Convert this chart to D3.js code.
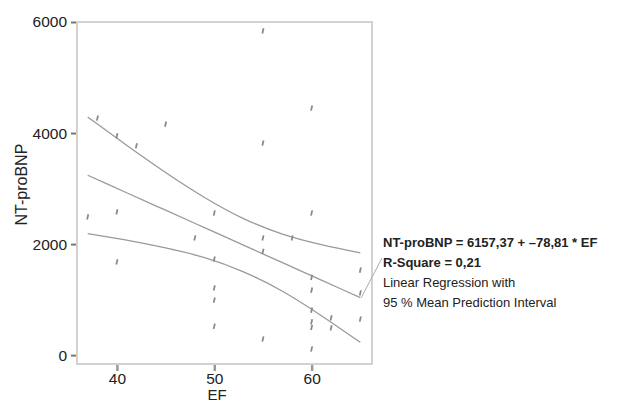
<!DOCTYPE html>
<html>
<head>
<meta charset="utf-8">
<script src="https://cdn.jsdelivr.net/npm/d3@7"></script>
<style>
  html, body { margin: 0; padding: 0; background: #fff; }
  svg { display: block; font-family: "Liberation Sans", Arial, Helvetica, sans-serif; }
</style>
</head>
<body>
<div id="chart"></div>
<script>
// Observed cases (EF, NT-proBNP)
const ef = [37, 38, 40, 42, 45, 40, 40, 48,
            50, 50, 50, 50, 50,
            55, 55, 55, 55, 55,
            60, 60, 58, 60, 60, 60, 60, 60, 60,
            62, 62, 65, 65, 65];
const ntprobnp = [2490, 4270, 3950, 3770, 4160, 2580, 1680, 2110,
                  2560, 1730, 1210, 990, 520,
                  5840, 3820, 2110, 1870, 290,
                  4450, 2560, 2110, 1400, 1170, 810, 600, 500, 110,
                  670, 490, 1530, 1120, 650];

// Fit line and 95% mean prediction interval
const fitEF = [37, 41, 45, 49, 53, 57, 61, 65];
const fitMean = [3240, 2925, 2610, 2295, 1980, 1665, 1350, 1035];
const fitUpper = [4290, 3780, 3290, 2840, 2460, 2180, 1990, 1840];
const fitLower = [2190, 2070, 1930, 1755, 1500, 1150, 710, 230];

const xTicks = [40, 50, 60];
const yTicks = [0, 2000, 4000, 6000];

const legendLines = [
    { text: "NT-proBNP = 6157,37 + \u201378,81 * EF", bold: true },
    { text: "R-Square = 0,21", bold: true },
    { text: "Linear Regression with", bold: false },
    { text: "95 % Mean Prediction Interval", bold: false }
];

const width = 621, height = 404;
const plot = { left: 77, right: 372, top: 22, bottom: 364 };

const svg = d3.select("#chart").append("svg")
    .attr("width", width)
    .attr("height", height);

const x = d3.scaleLinear().domain([35.9, 66.2]).range([plot.left, plot.right]);
const y = d3.scaleLinear().domain([-160, 6000]).range([plot.bottom, plot.top]);

const frameColor = "#d2d2d2";

// Frame (axis lines + top/right border)
svg.append("rect")
    .attr("x", plot.left).attr("y", plot.top)
    .attr("width", plot.right - plot.left).attr("height", plot.bottom - plot.top)
    .attr("fill", "none")
    .attr("stroke", frameColor)
    .attr("stroke-width", 2);

// Y axis ticks + labels
const yAxis = svg.append("g").attr("transform", `translate(${plot.left - 1},0)`)
    .call(d3.axisLeft(y).tickValues(yTicks).tickSize(5).tickPadding(4).tickFormat(d3.format("d")));
yAxis.select(".domain").remove();
yAxis.selectAll(".tick line").attr("stroke", "#777").attr("stroke-width", 2);
yAxis.selectAll(".tick text")
    .attr("fill", "#222")
    .style("font-size", "15.5px")
    .style("font-family", "'Liberation Sans', Arial, sans-serif");

// X axis ticks + labels
const xAxis = svg.append("g").attr("transform", `translate(0,${plot.bottom + 1})`)
    .call(d3.axisBottom(x).tickValues(xTicks).tickSize(6).tickPadding(2));
xAxis.select(".domain").remove();
xAxis.selectAll(".tick line").attr("stroke", "#999").attr("stroke-width", 2.5);
xAxis.selectAll(".tick text")
    .attr("fill", "#222")
    .style("font-size", "15.5px")
    .style("font-family", "'Liberation Sans', Arial, sans-serif");

// Axis titles
svg.append("text")
    .attr("x", 217)
    .attr("y", 400)
    .attr("text-anchor", "middle")
    .attr("fill", "#222")
    .style("font-size", "15px")
    .text("EF");

svg.append("text")
    .attr("transform", `translate(27,${y(3000) - 4}) rotate(-90)`)
    .attr("text-anchor", "middle")
    .attr("fill", "#222")
    .style("font-size", "16px")
    .text("NT-proBNP");

// Fit lines
const fitLine = values => d3.line()
    .x((d, i) => x(fitEF[i]))
    .y(d => y(d))
    .curve(d3.curveNatural)(values);

[fitUpper, fitMean, fitLower].forEach(vals => {
    svg.append("path")
        .attr("d", fitLine(vals))
        .attr("fill", "none")
        .attr("stroke", "#9a9a9a")
        .attr("stroke-width", 1.3);
});

// Points
svg.append("g").selectAll("line")
    .data(ef.map((e, i) => [e, ntprobnp[i]]))
    .join("line")
    .attr("x1", d => x(d[0]) - 0.6).attr("y1", d => y(d[1]) + 2.6)
    .attr("x2", d => x(d[0]) + 0.6).attr("y2", d => y(d[1]) - 2.6)
    .attr("stroke", "#8a8a8a")
    .attr("stroke-width", 1.8);

// Leader line from the fit line to the annotation
const textX = 383, textY = 247, lineGap = 20;
svg.append("line")
    .attr("x1", x(fitEF[fitEF.length - 1]) + 1)
    .attr("y1", y(fitMean[fitMean.length - 1]))
    .attr("x2", textX - 1)
    .attr("y2", textY + 11)
    .attr("stroke", "#aaa")
    .attr("stroke-width", 1);

svg.append("g").selectAll("text")
    .data(legendLines)
    .join("text")
    .attr("x", textX)
    .attr("y", (d, i) => textY + i * lineGap)
    .attr("fill", "#222")
    .style("font-size", "13px")
    .style("font-weight", d => d.bold ? "bold" : "normal")
    .text(d => d.text);
</script>
</body>
</html>
